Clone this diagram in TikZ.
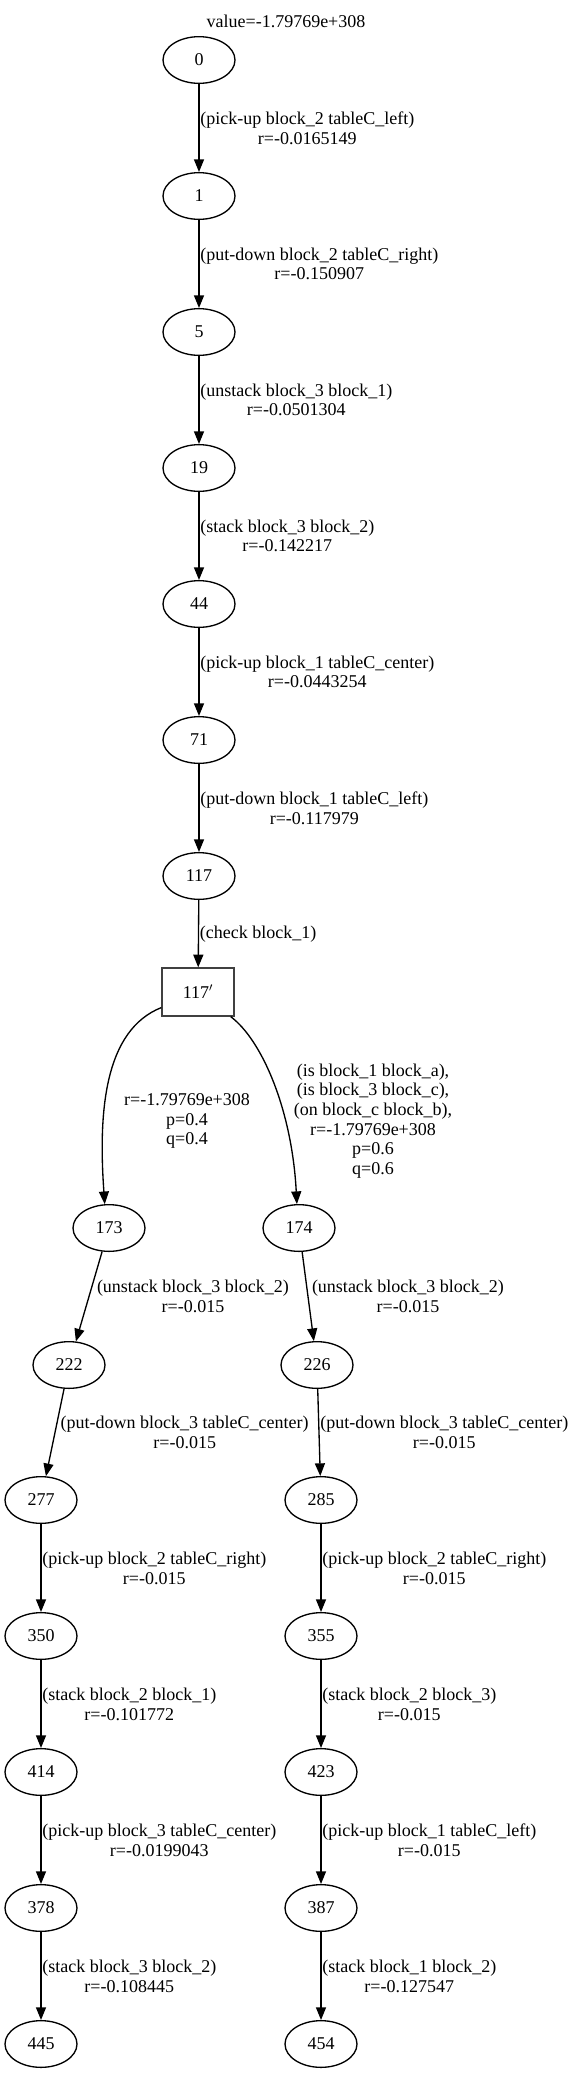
\documentclass[tikz,border=0pt]{standalone}
\usepackage{fontspec}
\setmainfont{Liberation Serif}
\usetikzlibrary{shapes.geometric,arrows.meta,positioning}

\begin{document}
\begin{tikzpicture}[x=0.75pt,y=-0.75pt,
    every node/.style={font=\fontsize{13.5}{14.8}\selectfont},
    statenode/.style={ellipse, draw, line width=1pt, minimum width=54pt, minimum height=35pt, inner sep=0pt},
    checknode/.style={rectangle, draw=black!75, line width=1pt, minimum width=54pt, minimum height=36pt, inner sep=0pt},
    edgelbl/.style={align=center, inner sep=0.5pt},
    link/.style={line width=1pt, -{Triangle[length=9.5pt,width=7.5pt]}}]
  \useasboundingbox (0,0) rectangle (573,2075);
  \node (val) at (286,21) {value=-1.79769e+308};

  % main chain
  \node[statenode] at (199,60) (n0) {0};
  \node[statenode] at (199,196) (n1) {1};
  \node[statenode] at (199,332) (n5) {5};
  \node[statenode] at (199,468) (n19) {19};
  \node[statenode] at (199,604) (n44) {44};
  \node[statenode] at (199,740) (n71) {71};
  \node[statenode] at (199,876) (n117) {117};
  \node[checknode] at (198,992) (n117c) {117$'$};

  \draw[link] (n0) -- (n1) node[edgelbl, midway, right] {(pick-up block\_2 tableC\_left)\\r=-0.0165149};
  \draw[link] (n1) -- (n5) node[edgelbl, midway, right] {(put-down block\_2 tableC\_right)\\r=-0.150907};
  \draw[link] (n5) -- (n19) node[edgelbl, midway, right] {(unstack block\_3 block\_1)\\r=-0.0501304};
  \draw[link] (n19) -- (n44) node[edgelbl, midway, right] {(stack block\_3 block\_2)\\r=-0.142217};
  \draw[link] (n44) -- (n71) node[edgelbl, midway, right] {(pick-up block\_1 tableC\_center)\\r=-0.0443254};
  \draw[link] (n71) -- (n117) node[edgelbl, midway, right] {(put-down block\_1 tableC\_left)\\r=-0.117979};
  \draw[link] (n117) -- (n117c) node[edgelbl, midway, right] {(check block\_1)};

  % outcomes of the check
  \node[statenode] at (109,1228) (n173) {173};
  \node[statenode] at (299,1228) (n174) {174};
  \draw[link] (n117c.203) .. controls (105,1030) and (98,1110) .. (n173.100);
  \draw[link] (n117c.323) .. controls (262,1040) and (292,1110) .. (n174.95);
  \node[edgelbl] at (187,1121) (p173) {r=-1.79769e+308\\p=0.4\\q=0.4};
  \node[edgelbl] at (373,1121) (p174) {(is block\_1 block\_a),\\(is block\_3 block\_c),\\(on block\_c block\_b),\\r=-1.79769e+308\\p=0.6\\q=0.6};

  % left branch
  \node[statenode] at (69,1365) (n222) {222};
  \node[statenode] at (41,1500) (n277) {277};
  \node[statenode] at (41,1636) (n350) {350};
  \node[statenode] at (41,1772) (n414) {414};
  \node[statenode] at (41,1908) (n378) {378};
  \node[statenode] at (41,2044) (n445) {445};
  \draw[link] (n173) -- (n222) node[edgelbl, midway, right, xshift=5pt] {(unstack block\_3 block\_2)\\r=-0.015};
  \draw[link] (n222) -- (n277) node[edgelbl, midway, right, xshift=3.3pt] {(put-down block\_3 tableC\_center)\\r=-0.015};
  \draw[link] (n277) -- (n350) node[edgelbl, midway, right] {(pick-up block\_2 tableC\_right)\\r=-0.015};
  \draw[link] (n350) -- (n414) node[edgelbl, midway, right] {(stack block\_2 block\_1)\\r=-0.101772};
  \draw[link] (n414) -- (n378) node[edgelbl, midway, right] {(pick-up block\_3 tableC\_center)\\r=-0.0199043};
  \draw[link] (n378) -- (n445) node[edgelbl, midway, right] {(stack block\_3 block\_2)\\r=-0.108445};

  % right branch
  \node[statenode] at (317,1365) (n226) {226};
  \node[statenode] at (321,1500) (n285) {285};
  \node[statenode] at (321,1636) (n355) {355};
  \node[statenode] at (321,1772) (n423) {423};
  \node[statenode] at (321,1908) (n387) {387};
  \node[statenode] at (321,2044) (n454) {454};
  \draw[link] (n174) -- (n226) node[edgelbl, midway, right, xshift=2pt] {(unstack block\_3 block\_2)\\r=-0.015};
  \draw[link] (n226) -- (n285) node[edgelbl, midway, right] {(put-down block\_3 tableC\_center)\\r=-0.015};
  \draw[link] (n285) -- (n355) node[edgelbl, midway, right] {(pick-up block\_2 tableC\_right)\\r=-0.015};
  \draw[link] (n355) -- (n423) node[edgelbl, midway, right] {(stack block\_2 block\_3)\\r=-0.015};
  \draw[link] (n423) -- (n387) node[edgelbl, midway, right] {(pick-up block\_1 tableC\_left)\\r=-0.015};
  \draw[link] (n387) -- (n454) node[edgelbl, midway, right] {(stack block\_1 block\_2)\\r=-0.127547};
\end{tikzpicture}
\end{document}
